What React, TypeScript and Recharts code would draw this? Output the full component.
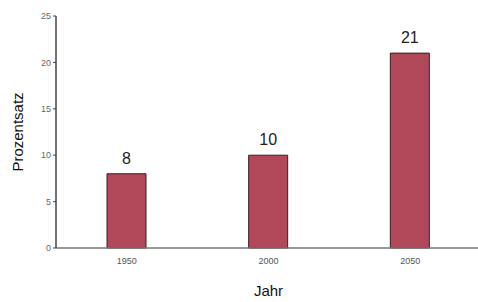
import React from 'react';
import { Bar, BarChart, LabelList, XAxis, YAxis } from 'recharts';

const jahre = ['1950', '2000', '2050'];
const prozentsatz = [8, 10, 21];
const yTicks = [0, 5, 10, 15, 20, 25];

const data = jahre.map((jahr, i) => ({ jahr, wert: prozentsatz[i] }));

const font = '"Liberation Sans", Arial, sans-serif';

const App: React.FC = () => {
	return (
		<div
			style={{
				position: 'absolute',
				left: 0,
				top: 0,
				width: 478,
				height: 302,
				overflow: 'hidden',
				fontFamily: font,
			}}
		>
			<BarChart
				width={481}
				height={302}
				data={data}
				margin={{ top: 16, right: 0, left: 0, bottom: 0 }}
			>
				<XAxis
					dataKey='jahr'
					height={54}
					axisLine={{ stroke: '#777', strokeWidth: 1.5 }}
					tickLine={false}
					tick={{ fontSize: 9, fill: '#555', fontFamily: font }}
					tickMargin={4}
					label={{
						value: 'Jahr',
						position: 'insideBottom',
						offset: 6,
						fontSize: 15,
						fill: '#111',
						fontFamily: font,
					}}
				/>
				<YAxis
					width={56}
					domain={[0, 25]}
					ticks={yTicks}
					interval={0}
					axisLine={{ stroke: '#444', strokeWidth: 1.5 }}
					tickLine={{ stroke: '#444' }}
					tickSize={3}
					tick={{ fontSize: 9, fill: '#666', fontFamily: font }}
					label={{
						value: 'Prozentsatz',
						angle: -90,
						position: 'center',
						dx: -10,
						fontSize: 15,
						fill: '#111',
						fontFamily: font,
					}}
				/>
				<Bar
					dataKey='wert'
					barSize={39}
					fill='#b0485a'
					stroke='#3b1c22'
					strokeWidth={1}
					isAnimationActive={false}
				>
					<LabelList
						dataKey='wert'
						position='top'
						offset={10}
						fontSize={16}
						fill='#222'
						fontFamily={font}
					/>
				</Bar>
			</BarChart>
		</div>
	);
};

export default App;
